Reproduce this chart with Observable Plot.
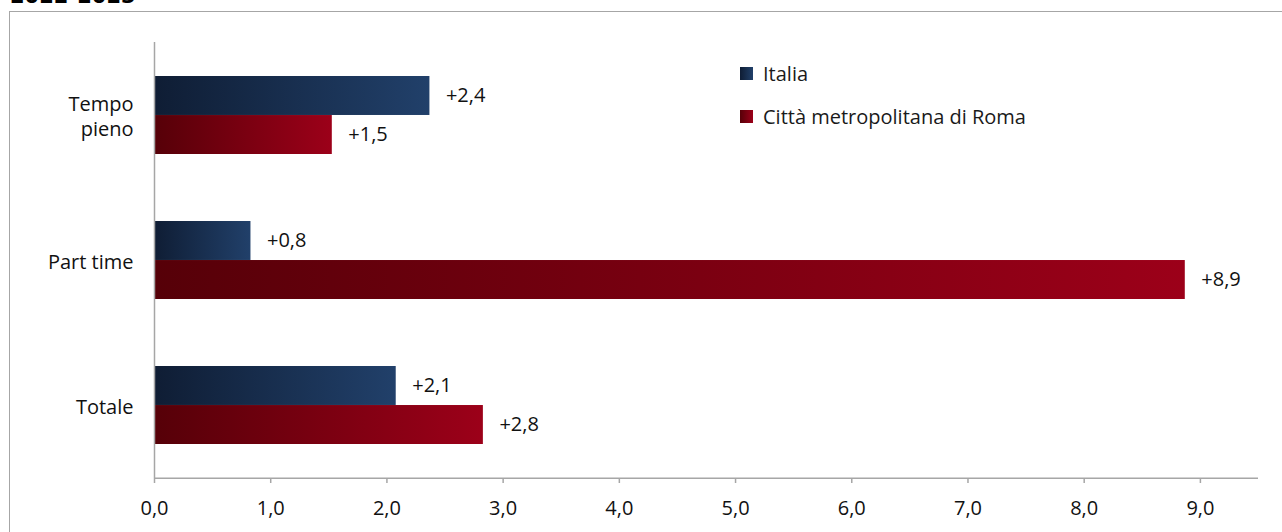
<!DOCTYPE html>
<html>
<head>
<meta charset="utf-8">
<script src="https://cdn.jsdelivr.net/npm/d3@7"></script>
<script src="https://cdn.jsdelivr.net/npm/@observablehq/plot@0.6"></script>
<style>
  html, body { margin: 0; padding: 0; background: #fff; overflow: hidden; }
  #wrap { position: relative; width: 1282px; height: 532px; font-family: "Open Sans", Lato, sans-serif; }
  #title { position: absolute; left: 10px; top: -14px; font: bold 21px/21px "DejaVu Sans", sans-serif; color: #000; white-space: nowrap; }
  #frame { position: absolute; left: 9px; top: 11px; width: 1400px; height: 700px; border-top: 1.5px solid #a6a6a6; border-left: 1.5px solid #a6a6a6; }
  #chart { position: absolute; left: 0; top: 0; }
  .legend { position: absolute; left: 740px; font-size: 20px; line-height: 26px; color: #1a1a1a; white-space: nowrap; }
  .legend .sw { display: inline-block; width: 13px; height: 13px; vertical-align: middle; margin-right: 10px; position: relative; top: -2px; }
</style>
</head>
<body>
<div id="wrap">
  <div id="frame"></div>
  <div id="title">2022-2023</div>
  <div id="chart"></div>
  <div id="legend"></div>
</div>
<script>
// ---- data ----
const categories = ["Tempo pieno", "Part time", "Totale"];
const series = ["Italia", "Città metropolitana di Roma"];
const italiaValues = [2.37, 0.83, 2.08];
const romaValues = [1.53, 8.87, 2.83];
const xTicks = [0, 1, 2, 3, 4, 5, 6, 7, 8, 9];

const gradients = {
  "Italia": ["#0f1d34", "#21406a"],
  "Città metropolitana di Roma": ["#560008", "#9c0019"]
};
const gradId = {"Italia": "gItalia", "Città metropolitana di Roma": "gRoma"};

const rows = [];
categories.forEach((c, i) => {
  rows.push({cat: c, series: series[0], value: italiaValues[i]});
  rows.push({cat: c, series: series[1], value: romaValues[i]});
});

const fmt = v => "+" + v.toFixed(1).replace(".", ",");

const marginTop = 42, marginBottom = 54;
const height = 532;
const paddingInner = 0.463, paddingOuter = paddingInner / 2;
const step = (height - marginTop - marginBottom) / (categories.length - paddingInner + 2 * paddingOuter);
const bw = step * (1 - paddingInner);
const FS = 20;

function defs() {
  const ns = "http://www.w3.org/2000/svg";
  const d = document.createElementNS(ns, "defs");
  for (const s of series) {
    const g = document.createElementNS(ns, "linearGradient");
    g.setAttribute("id", gradId[s]);
    g.setAttribute("x1", "0"); g.setAttribute("x2", "1");
    g.setAttribute("y1", "0"); g.setAttribute("y2", "0");
    gradients[s].forEach((col, k) => {
      const st = document.createElementNS(ns, "stop");
      st.setAttribute("offset", k === 0 ? "0" : "1");
      st.setAttribute("stop-color", col);
      g.appendChild(st);
    });
    d.appendChild(g);
  }
  return d;
}

const chart = Plot.plot({
  width: 1282,
  height,
  marginTop,
  marginBottom,
  marginLeft: 154,
  marginRight: 24,
  style: {fontFamily: "'Open Sans', Lato, sans-serif", fontSize: FS + "px", color: "#1a1a1a", background: "transparent"},
  x: {domain: [0, 9.5]},
  y: {domain: categories, paddingInner, paddingOuter},
  marks: [
    defs,
    Plot.barX(rows.filter(d => d.series === series[0]), {
      x: "value", y: "cat", fill: `url(#${gradId[series[0]]})`, insetBottom: bw / 2
    }),
    Plot.barX(rows.filter(d => d.series === series[1]), {
      x: "value", y: "cat", fill: `url(#${gradId[series[1]]})`, insetTop: bw / 2
    }),
    Plot.text(rows.filter(d => d.series === series[0]), {
      x: "value", y: "cat", text: d => fmt(d.value),
      textAnchor: "start", dx: 16, dy: -bw / 4, fill: "#111", fontSize: FS
    }),
    Plot.text(rows.filter(d => d.series === series[1]), {
      x: "value", y: "cat", text: d => fmt(d.value),
      textAnchor: "start", dx: 16, dy: bw / 4, fill: "#111", fontSize: FS
    }),
    Plot.ruleX([0], {stroke: "#a6a6a6", strokeWidth: 1.5}),
    Plot.ruleY([categories[categories.length - 1]], {x1: 0, x2: 9.5, dy: step / 2, stroke: "#a6a6a6", strokeWidth: 1.5}),
    Plot.axisX({
      ticks: xTicks, tickFormat: d => d.toFixed(1).replace(".", ","),
      tickSize: 5, tickPadding: 17, stroke: "#a6a6a6", strokeWidth: 1.5, fill: "#111", label: null, fontSize: FS
    }),
    Plot.axisY({
      tickSize: 0, tickPadding: 21, label: null, fill: "#111", fontSize: FS, lineHeight: 1.25,
      tickFormat: d => d === "Tempo pieno" ? "Tempo\npieno" : d
    })
  ]
});
document.getElementById("chart").appendChild(chart);

// legend
const leg = document.getElementById("legend");
const legTops = [61, 104];
series.forEach((s, i) => {
  const div = document.createElement("div");
  div.className = "legend";
  div.style.top = legTops[i] + "px";
  const sw = document.createElement("span");
  sw.className = "sw";
  sw.style.background = `linear-gradient(to right, ${gradients[s][0]}, ${gradients[s][1]})`;
  div.appendChild(sw);
  div.appendChild(document.createTextNode(s));
  leg.appendChild(div);
});
</script>
</body>
</html>
